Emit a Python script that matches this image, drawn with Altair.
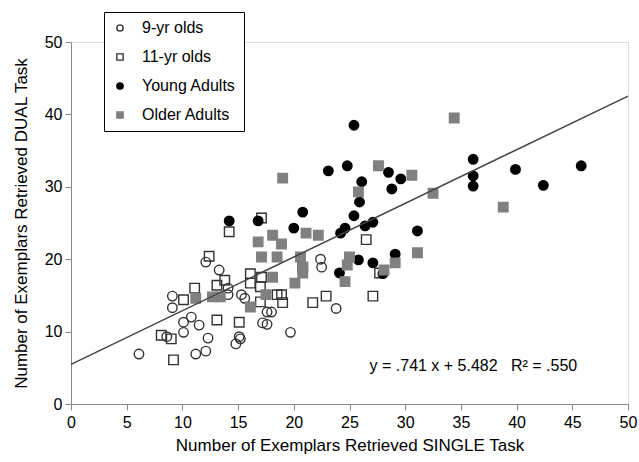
import altair as alt
import pandas as pd

groups = ["9-yr olds", "11-yr olds", "Young Adults", "Older Adults"]

nine_x = [6.1, 8.6, 9.1, 9.1, 10.1, 10.1, 10.8, 11.5, 11.2, 12.1, 12.3, 12.1, 13.3, 14.1, 14.1,
          15.3, 15.6, 15.1, 14.8, 15.2, 17.2, 17.6, 17.6, 18.0, 19.7, 22.4, 22.5, 23.8]
nine_y = [6.9, 9.3, 14.9, 13.3, 11.3, 9.9, 12.0, 10.9, 6.9, 7.3, 9.1, 19.6, 18.5, 16.0, 15.1,
          15.1, 14.6, 9.3, 8.3, 9.0, 11.2, 11.0, 12.7, 12.7, 9.9, 20.0, 18.9, 13.2]

eleven_x = [8.1, 9.0, 9.2, 10.1, 11.1, 12.4, 13.1, 13.1, 13.8, 14.2, 15.1, 16.1, 16.1, 17.1, 17.1,
            17.0, 17.0, 18.5, 18.9, 19.0, 21.7, 22.9, 20.8, 26.5, 27.1, 27.7]
eleven_y = [9.5, 9.0, 6.1, 14.4, 16.0, 20.4, 16.4, 11.6, 17.1, 23.8, 11.3, 18.0, 16.7, 25.7, 17.5,
            16.2, 14.1, 15.1, 15.1, 14.0, 14.0, 14.9, 18.9, 22.7, 14.9, 18.1]

young_x = [14.2, 16.8, 20.0, 20.8, 23.1, 24.8, 25.4, 26.1, 25.9, 25.4, 24.2, 24.6, 26.4, 27.1, 28.5,
           29.6, 28.8, 31.1, 29.1, 25.8, 27.1, 28.0, 24.1, 36.1, 36.1, 36.1, 39.9, 42.4, 45.8]
young_y = [25.3, 25.3, 24.3, 26.5, 32.2, 32.9, 38.5, 30.7, 27.9, 26.0, 23.6, 24.3, 24.6, 25.1, 32.0,
           31.1, 29.7, 23.9, 20.7, 19.9, 19.5, 18.0, 18.1, 33.8, 31.5, 30.1, 32.4, 30.2, 32.9]

older_x = [11.2, 12.7, 13.4, 16.1, 17.5, 16.8, 18.1, 18.9, 17.1, 18.5, 18.1, 19.0, 21.1, 22.2, 20.6,
           20.8, 20.8, 20.1, 25.0, 24.8, 24.6, 25.8, 27.6, 30.6, 28.1, 29.1, 31.1, 32.5, 34.4, 38.8]
older_y = [14.6, 14.8, 14.8, 13.4, 15.1, 22.4, 23.3, 22.1, 20.3, 20.3, 17.5, 31.2, 23.6, 23.3, 20.3,
           18.9, 18.1, 16.7, 20.3, 19.2, 16.9, 29.3, 32.9, 31.6, 18.5, 19.5, 20.9, 29.1, 39.5, 27.2]

fit_x = [0, 50]
fit_y = [5.482, 42.532]

axis_ticks = [0, 5, 10, 15, 20, 25, 30, 35, 40, 45, 50]
minor_ticks = [v / 2 for v in range(0, 101, 5)]

rows = []
for g, xs, ys in zip(groups, [nine_x, eleven_x, young_x, older_x], [nine_y, eleven_y, young_y, older_y]):
    rows += [{"group": g, "single": a, "dual": b} for a, b in zip(xs, ys)]
df = pd.DataFrame(rows)
fit_df = pd.DataFrame({"single": fit_x, "dual": fit_y})
note_df = pd.DataFrame({"single": [26.8], "dual": [5.3],
                        "label": ["y = .741 x + 5.482\u00a0\u00a0\u00a0R\u00b2 = .550"]})

FONT = "Liberation Sans"

tick_size = {"condition": {"test": "datum.value % 5 !== 0", "value": 3}, "value": 6}

xenc = alt.X("single:Q", scale=alt.Scale(domain=[0, 50], nice=False),
             axis=alt.Axis(values=minor_ticks, title="Number of Exemplars Retrieved SINGLE Task",
                           labelExpr="datum.value % 5 === 0 ? datum.label : ''",
                           labelOverlap=False, labelFlush=False,
                           tickSize=tick_size, grid=False, labelFontSize=16, titleFontSize=17,
                           titleFontWeight="normal", titlePadding=7, labelPadding=4))
yenc = alt.Y("dual:Q", scale=alt.Scale(domain=[0, 50], nice=False),
             axis=alt.Axis(values=minor_ticks, title="Number of Exemplars Retrieved DUAL Task",
                           labelExpr="datum.value % 5 === 0 ? datum.label : ''",
                           labelOverlap=False, labelFlush=False,
                           tickSize=tick_size, grid=False, labelFontSize=16, titleFontSize=17,
                           titleFontWeight="normal", titlePadding=14, labelPadding=3))


def make_legend():
    return alt.Legend(title=None, orient="none", legendX=33, legendY=-30,
                      fillColor="white", strokeColor="black", padding=8,
                      rowPadding=13, labelFontSize=16, labelFont=FONT, labelColor="black",
                      symbolSize=40, labelOffset=14, symbolStrokeWidth=1.4)


points = alt.Chart(df).mark_point(filled=True, size=90, strokeWidth=1.4, opacity=1).encode(
    x=xenc,
    y=yenc,
    shape=alt.Shape("group:N", scale=alt.Scale(domain=groups, range=["circle", "square", "circle", "square"]),
                    legend=make_legend()),
    fill=alt.Fill("group:N", scale=alt.Scale(domain=groups, range=["transparent", "transparent", "black", "#808080"]),
                  legend=make_legend()),
    stroke=alt.Stroke("group:N", scale=alt.Scale(domain=groups, range=["#333333", "#333333", "black", "#808080"]),
                      legend=make_legend()),
)

line = alt.Chart(fit_df).mark_line(color="#444444", strokeWidth=1.5).encode(x="single:Q", y="dual:Q")

note = alt.Chart(note_df).mark_text(align="left", baseline="middle", fontSize=16, font=FONT, color="black").encode(
    x="single:Q", y="dual:Q", text="label:N")

chart = alt.layer(points, line, note).properties(
    width=557, height=362,
    autosize=alt.AutoSizeParams(type="none"),
    padding={"left": 71, "top": 42, "right": 11, "bottom": 58},
).configure_view(stroke="black", strokeWidth=1.5).configure_axis(
    domainColor="black", domainWidth=1.5, tickColor="black", tickWidth=1,
    labelFont=FONT, titleFont=FONT, labelColor="black", titleColor="black"
).configure(background="white")

chart.save("out.html", embed_options={"renderer": "svg", "actions": False})
